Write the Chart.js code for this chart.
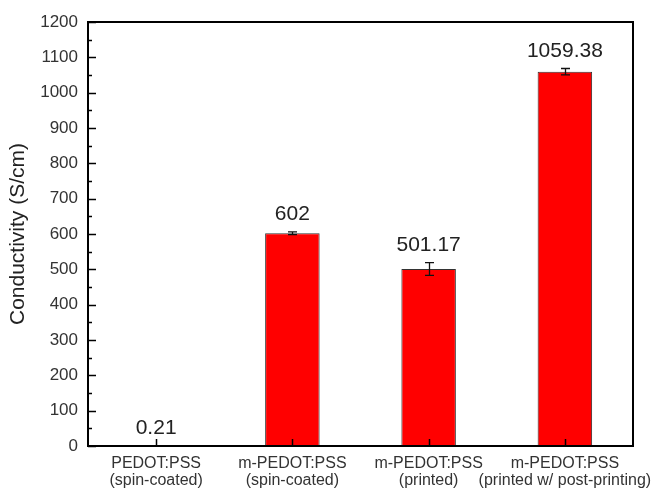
<!DOCTYPE html>
<html><head><meta charset="utf-8">
<script src="https://cdn.jsdelivr.net/npm/chart.js@4/dist/chart.umd.min.js"></script>
<style>html,body{margin:0;padding:0;background:#fff}</style>
</head><body>
<canvas id="c" width="654" height="489"></canvas>
<script>
// Sample names (two-line category labels)
const categories = [
  ["PEDOT:PSS", "(spin-coated)"],
  ["m-PEDOT:PSS", "(spin-coated)"],
  ["m-PEDOT:PSS", "(printed)"],
  ["m-PEDOT:PSS", "(printed w/ post-printing)"]
];
// Conductivity in S/cm and its spread
const conductivity = [0.21, 602, 501.17, 1059.38];
const conductivityError = [0, 4, 18, 9];
// Y axis range
const yMin = 0, yMax = 1200, yMajorStep = 100, yMinorStep = 50;

const FONT = '"Liberation Sans", Arial, Helvetica, sans-serif';

// Error bars, value labels, inward ticks and the closed frame
const decorations = {
  id: 'decorations',
  afterDatasetsDraw(chart) {
    const ctx = chart.ctx, a = chart.chartArea;
    const xs = chart.scales.x, ys = chart.scales.y;
    ctx.save();

    // error bars
    ctx.strokeStyle = '#111';
    ctx.lineWidth = 1.3;
    conductivity.forEach((v, i) => {
      const e = conductivityError[i];
      if (!e) return;
      const px = Math.round(xs.getPixelForValue(i)) + 0.5;
      const t = ys.getPixelForValue(v + e), b = ys.getPixelForValue(v - e);
      ctx.beginPath();
      ctx.moveTo(px, t); ctx.lineTo(px, b);
      ctx.moveTo(px - 4.5, t); ctx.lineTo(px + 4.5, t);
      ctx.moveTo(px - 4.5, b); ctx.lineTo(px + 4.5, b);
      ctx.stroke();
    });

    // value labels above each bar
    ctx.fillStyle = '#222';
    ctx.font = '21px ' + FONT;
    ctx.textAlign = 'center';
    ctx.textBaseline = 'alphabetic';
    conductivity.forEach((v, i) => {
      const top = ys.getPixelForValue(v + conductivityError[i]);
      ctx.fillText(String(v), xs.getPixelForValue(i), top - 11.5);
    });

    // inward ticks on the left axis (major + minor)
    ctx.strokeStyle = '#000';
    ctx.lineWidth = 1.5;
    ctx.beginPath();
    for (let v = yMin; v <= yMax; v += yMinorStep) {
      const py = Math.round(ys.getPixelForValue(v)) + 0.5;
      const len = (v % yMajorStep === 0) ? 8 : 4;
      ctx.moveTo(a.left, py); ctx.lineTo(a.left + len, py);
    }
    // inward ticks on the bottom axis at each category
    categories.forEach((_, i) => {
      const px = Math.round(xs.getPixelForValue(i)) + 0.5;
      ctx.moveTo(px, a.bottom); ctx.lineTo(px, a.bottom - 7);
    });
    ctx.stroke();

    // frame
    ctx.lineWidth = 2;
    ctx.strokeRect(a.left, a.top, a.right - a.left, a.bottom - a.top);
    ctx.restore();
  }
};

new Chart(document.getElementById('c'), {
  type: 'bar',
  data: {
    labels: categories,
    datasets: [{
      data: conductivity,
      backgroundColor: '#ff0000',
      borderColor: '#333',
      borderWidth: 1,
      borderSkipped: false,
      barPercentage: 0.4,
      categoryPercentage: 1
    }]
  },
  options: {
    responsive: false,
    animation: false,
    devicePixelRatio: 1,
    layout: { padding: { top: 22, right: 21, left: 0, bottom: 0 } },
    plugins: { legend: { display: false }, tooltip: { enabled: false } },
    scales: {
      x: {
        offset: true,
        grid: { display: false, drawTicks: false },
        border: { display: false },
        ticks: {
          color: '#333',
          padding: 9,
          maxRotation: 0,
          autoSkip: false,
          font: { family: FONT, size: 16, lineHeight: 1.08 }
        },
        afterFit(s) {
          s.height = 43;
          // let the long last label run past the plot edge
          s.paddingLeft = 0;
          s.paddingRight = 0;
        }
      },
      y: {
        min: yMin, max: yMax,
        grid: { display: false, drawTicks: false },
        border: { display: false },
        ticks: {
          stepSize: yMajorStep,
          color: '#333',
          padding: 10,
          font: { family: FONT, size: 17 },
          callback: v => String(v)
        },
        title: {
          display: true,
          text: 'Conductivity (S/cm)',
          color: '#222',
          padding: { top: 6, bottom: 0 },
          font: { family: FONT, size: 21 }
        },
        afterFit(s) { s.width = 88; }
      }
    }
  },
  plugins: [decorations]
});
</script>
</body></html>
